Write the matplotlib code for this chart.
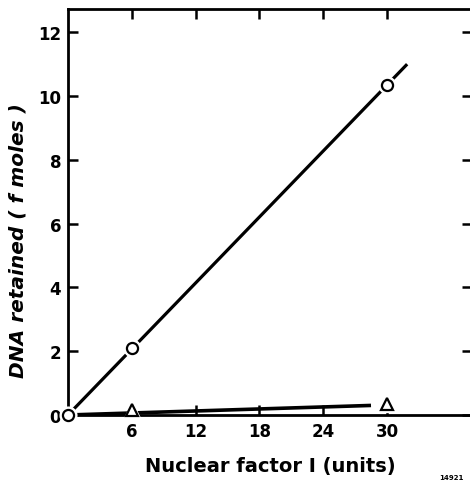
import matplotlib
matplotlib.use("Agg")
import matplotlib.pyplot as plt

# circles: DNA retained vs nuclear factor I
circ_x = [0, 6, 30]
circ_y = [0, 2.1, 10.35]
# fitted line through circles (extends a bit beyond last point)
fit_x = [0, 31.9]
fit_y = [0, 11.0]
# triangles
tri_x = [6, 30]
tri_y = [0.15, 0.35]
tri_line_x = [0, 28.5]
tri_line_y = [0.0, 0.3]

xticks = [6, 12, 18, 24, 30]
yticks = [0, 2, 4, 6, 8, 10, 12]

fig = plt.figure(figsize=(4.7, 4.89), dpi=100)
ax = fig.add_axes([68 / 470, 73 / 489, 404 / 470, 406 / 489])

ax.plot(fit_x, fit_y, color="black", lw=2.3, solid_capstyle="butt", zorder=2)
ax.plot(tri_line_x, tri_line_y, color="black", lw=2.6, solid_capstyle="butt", zorder=2)
# white halo so the line breaks around the markers
ax.plot(circ_x, circ_y, "o", ms=12, mfc="white", mec="white", zorder=3, clip_on=False)
ax.plot(tri_x, tri_y, "^", ms=12, mfc="white", mec="white", zorder=3, clip_on=False)
ax.plot(circ_x, circ_y, "o", ms=8, mfc="white", mec="black", mew=1.6, zorder=4, clip_on=False)
ax.plot(tri_x, tri_y, "^", ms=8.5, mfc="white", mec="black", mew=1.6, zorder=4, clip_on=False)

ax.set_xlim(0, 38.0)
ax.set_ylim(0, 12.73)
ax.set_xticks(xticks)
ax.set_yticks(yticks)
ax.tick_params(direction="in", length=7, width=1.8, top=True, right=True,
               labelsize=12, pad=5)
for lab in ax.get_xticklabels() + ax.get_yticklabels():
    lab.set_fontweight("bold")
for s in ax.spines.values():
    s.set_linewidth(2)

ax.set_xlabel("Nuclear factor I (units)", fontsize=14, fontweight="bold")
ax.xaxis.set_label_coords(0.5, -0.10)
ax.set_ylabel("DNA retained ( f moles )", fontsize=14.5, fontweight="bold",
              style="italic")
ax.yaxis.set_label_coords(-0.10, 0.431)
fig.text(0.935, 0.018, "14921", fontsize=5, fontweight="bold")

fig.savefig("out.png", dpi=100)
